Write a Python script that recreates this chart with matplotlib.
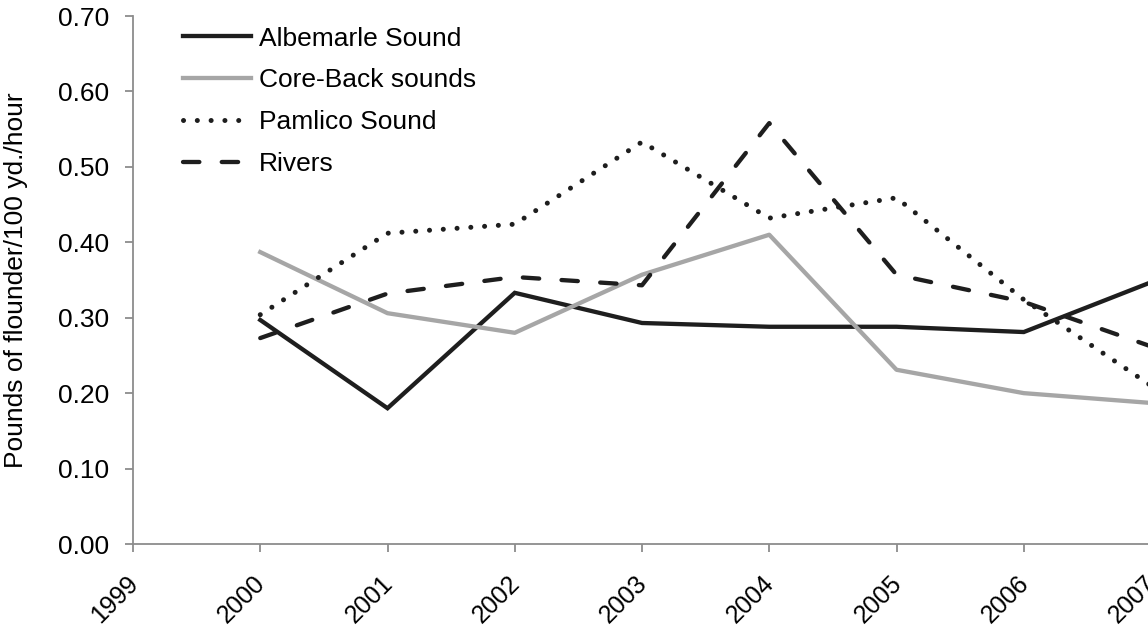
import matplotlib
matplotlib.use("Agg")
import matplotlib.pyplot as plt
import matplotlib.transforms as mtransforms

plt.rcParams['font.family'] = ['Liberation Sans', 'DejaVu Sans']

years = [2000, 2001, 2002, 2003, 2004, 2005, 2006, 2007]
tick_years = [1999, 2000, 2001, 2002, 2003, 2004, 2005, 2006, 2007, 2008]
albemarle = [0.297, 0.180, 0.333, 0.293, 0.288, 0.288, 0.281, 0.347]
core_back = [0.387, 0.306, 0.280, 0.357, 0.410, 0.231, 0.200, 0.187]
pamlico = [0.304, 0.412, 0.424, 0.533, 0.432, 0.459, 0.324, 0.210]
rivers = [0.273, 0.332, 0.354, 0.343, 0.558, 0.357, 0.321, 0.262]

W, H = 1148, 628
fig = plt.figure(figsize=(W / 100, H / 100), dpi=100)
left_px, right_px = 133, 133 + 9 * 127.25
top_px, bot_px = 16, 544
ax = fig.add_axes([left_px / W, 1 - bot_px / H, (right_px - left_px) / W, (bot_px - top_px) / H])

dark = '#1e1e1e'
gray = '#a6a6a6'
lw = 3.1
ax.plot(years, albemarle, color=dark, lw=lw, label='Albemarle Sound', solid_joinstyle='miter')
ax.plot(years, core_back, color=gray, lw=lw, label='Core-Back sounds')
ax.plot(years, pamlico, color=dark, lw=3.6, linestyle=(0, (0.01, 2.75)), dash_capstyle='round',
        label='Pamlico Sound')
ax.plot(years, rivers, color=dark, lw=lw, linestyle=(0, (3.8, 5.2)), dash_capstyle='round',
        label='Rivers')

ax.set_xlim(1999, 2008)
ax.set_ylim(0, 0.70)
ax.set_yticks([0.0, 0.1, 0.2, 0.3, 0.4, 0.5, 0.6, 0.7])
ax.set_yticklabels([f'{v:.2f}' for v in [0.0, 0.1, 0.2, 0.3, 0.4, 0.5, 0.6, 0.7]])
ax.set_xticks(tick_years)

for s in ['top', 'right']:
    ax.spines[s].set_visible(False)
for s in ['left', 'bottom']:
    ax.spines[s].set_color('#8c8c8c')
    ax.spines[s].set_linewidth(1.3)
ax.tick_params(axis='both', colors='#8c8c8c', length=6, width=1.3, labelcolor='black',
               labelsize=19)
ax.tick_params(axis='y', pad=11)
ax.tick_params(axis='x', pad=10, labelsize=18)

ax.set_xticklabels([str(y) for y in tick_years], rotation=45, ha='right', va='top',
                   rotation_mode='anchor')
offset = mtransforms.ScaledTranslation(-7 / 100, -5 / 100, fig.dpi_scale_trans)
for lab in ax.get_xticklabels():
    lab.set_transform(lab.get_transform() + offset)

ax.set_ylabel('Pounds of flounder/100 yd./hour', fontsize=19, labelpad=22)

leg = ax.legend(loc='upper left', bbox_to_anchor=((165 - left_px) / (right_px - left_px), 1.015),
                frameon=False, fontsize=19, handlelength=2.55, handletextpad=0.3,
                labelspacing=0.68, borderaxespad=0.3)

fig.savefig('out.png', dpi=100)
